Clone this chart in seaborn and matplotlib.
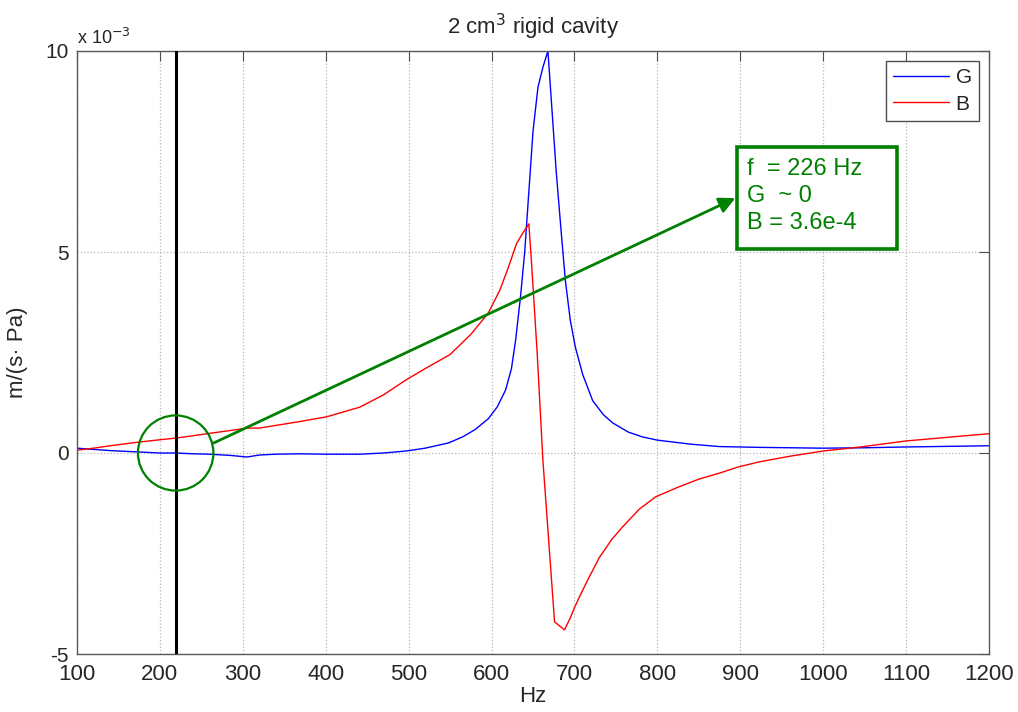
import numpy as np
import pandas as pd
import matplotlib
matplotlib.use('Agg')
import matplotlib.pyplot as plt
from matplotlib.patches import Ellipse, Rectangle
import seaborn as sns

# Conductance G and susceptance B (units of 1e-3 m/(s·Pa))
g_hz = [100, 120, 140, 170, 200, 219, 240, 260, 285, 305, 320, 340, 368, 400, 441, 470,
        497, 520, 548, 565, 580, 596, 607, 617, 624, 629, 635, 640, 645, 650, 656, 662,
        668, 673, 678, 684, 689, 695, 701, 710, 722, 735, 746, 765, 782, 800, 840, 875,
        923, 1000, 1050, 1100, 1200]
g_val = [0.12, 0.09, 0.06, 0.03, 0.0, 0.0, -0.02, -0.03, -0.06, -0.1, -0.05, -0.03, -0.02, -0.03, -0.03, 0.0,
         0.05, 0.12, 0.25, 0.4, 0.58, 0.85, 1.15, 1.57, 2.1, 2.8, 3.9, 5.0, 6.5, 8.0, 9.1, 9.6,
         10.0, 8.5, 7.0, 5.5, 4.3, 3.3, 2.64, 1.95, 1.3, 0.95, 0.75, 0.52, 0.4, 0.32, 0.22, 0.16,
         0.14, 0.12, 0.13, 0.15, 0.18]

b_hz = [100, 120, 140, 170, 200, 219, 240, 264, 285, 305, 320, 350, 368, 401, 441, 470,
        497, 520, 550, 575, 596, 610, 620, 630, 637, 645, 648, 655, 662, 669, 676, 688,
        695, 700, 706, 715, 730, 745, 758, 778, 798, 825, 850, 875, 897, 923, 960, 1000,
        1045, 1100, 1150, 1200]
b_val = [0.07, 0.12, 0.18, 0.26, 0.33, 0.37, 0.43, 0.5, 0.56, 0.62, 0.62, 0.72, 0.78, 0.9, 1.14, 1.45,
         1.82, 2.1, 2.45, 2.95, 3.48, 4.05, 4.6, 5.2, 5.45, 5.7, 4.8, 2.5, -0.2, -2.2, -4.2, -4.4,
         -4.1, -3.85, -3.58, -3.2, -2.6, -2.15, -1.84, -1.4, -1.09, -0.85, -0.65, -0.5, -0.35, -0.22, -0.08, 0.05,
         0.15, 0.3, 0.39, 0.48]

x_ticks = [100, 200, 300, 400, 500, 600, 700, 800, 900, 1000, 1100, 1200]
y_ticks = [-5, 0, 5, 10]

# marker frequency and the readout in the box
f_mark = 219
note_lines = ['f  = 226 Hz', 'G  ~ 0', 'B = 3.6e-4']

df = pd.concat([
    pd.DataFrame({'Hz': g_hz, 'val': g_val, 'series': 'G'}),
    pd.DataFrame({'Hz': b_hz, 'val': b_val, 'series': 'B'}),
])

sns.set_style('white')
plt.rcParams['font.family'] = ['Liberation Sans', 'DejaVu Sans']
plt.rcParams['axes.unicode_minus'] = False

green = '#008000'

fig = plt.figure(figsize=(10.18, 7.12), dpi=100)
ax = fig.add_axes([77 / 1018, 1 - 654 / 712, (989 - 77) / 1018, (654 - 51) / 712])

sns.lineplot(data=df, x='Hz', y='val', hue='series', palette={'G': 'blue', 'B': 'red'},
             sort=False, estimator=None, lw=1.0, ax=ax)

ax.axvline(f_mark, color='black', lw=2.2, zorder=3)

ax.set_xlim(100, 1200)
ax.set_ylim(-5, 10)
ax.set_xticks(x_ticks)
ax.set_yticks(y_ticks)
ax.tick_params(axis='x', labelsize=16, direction='in', top=True, length=7, color='0.3', pad=7)
ax.tick_params(axis='y', labelsize=15, direction='in', right=True, length=7, color='0.3', pad=6)
ax.grid(True, linestyle=':', color='#b5b5b5', lw=0.9)
for s in ax.spines.values():
    s.set_color('0.35')
    s.set_linewidth(1.0)

ax.set_xlabel('Hz', fontsize=16, labelpad=1)
ax.set_ylabel('m/(s\u00b7 Pa)', fontsize=16)
ax.yaxis.set_label_coords(-0.054, 0.5)
ax.set_title('2 cm$^3$ rigid cavity', fontsize=16, pad=12)
ax.text(0.0, 1.005, 'x 10$^{-3}$', transform=ax.transAxes, ha='left', va='bottom', fontsize=13)

leg = ax.legend(loc='upper right', bbox_to_anchor=(979 / 1018, 1 - 61 / 712),
                bbox_transform=fig.transFigure, fontsize=15, fancybox=False,
                edgecolor='0.3', framealpha=1, handlelength=2.7, borderpad=0.35,
                labelspacing=0.35, handletextpad=0.3, borderaxespad=0)
leg.get_frame().set_linewidth(1.0)
for line in leg.get_lines():
    line.set_linewidth(1.0)

# circle around the marker point, arrow and readout box
ax.add_patch(Ellipse((f_mark, 0), width=91, height=1.87, fill=False, ec=green, lw=1.6, zorder=4))
ax.annotate('', xy=(894, 6.34), xytext=(265, 0.25),
            arrowprops=dict(arrowstyle='-|>', color=green, lw=2, mutation_scale=24, shrinkA=0, shrinkB=0))
ax.add_patch(Rectangle((896, 5.07), 193, 2.54, fill=True, fc='white', ec=green, lw=2.6, zorder=5))
ax.text(908, 7.33, '\n'.join(note_lines), color=green, fontsize=17, ha='left', va='top',
        linespacing=1.27, zorder=6)

fig.savefig('out.png', dpi=100)
